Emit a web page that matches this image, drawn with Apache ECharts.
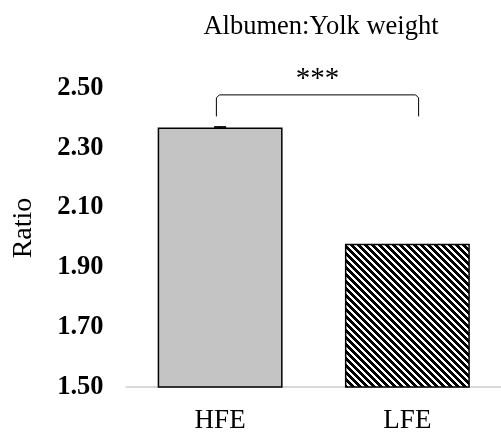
<!DOCTYPE html>
<html>
<head>
<meta charset="utf-8">
<script src="https://cdn.jsdelivr.net/npm/echarts@6/dist/echarts.min.js"></script>
<style>
html,body{margin:0;padding:0;background:#fff;}
#chart{width:501px;height:434px;}
</style>
</head>
<body>
<div id="chart"></div>
<script>
// ---- data ----
var categories = ['HFE', 'LFE'];
var ratioValues = [2.368, 1.979];
var ratioErrors = [0.002, 0];
var yTicks = { min: 1.5, max: 2.5, interval: 0.2 };
var titleText = 'Albumen:Yolk weight';
var axisTitle = 'Ratio';
var sigLabel = '***';
// bracket: [startIndex, endIndex, topValue, legBottomValue] (fractional index = offset in bands)
var bracket = [[-0.02, 1.06, 2.477, 2.405]];

// ---- pattern for LFE ----
function makeStripes() {
  var p = 7;
  var c = document.createElement('canvas');
  c.width = p; c.height = p;
  var ctx = c.getContext('2d');
  var img = ctx.createImageData(p, p);
  for (var y = 0; y < p; y++) {
    for (var x = 0; x < p; x++) {
      var k = (((x - y) % p) + p) % p;
      var v = k < 4 ? 0 : 255;
      var i = (y * p + x) * 4;
      img.data[i] = v; img.data[i + 1] = v; img.data[i + 2] = v; img.data[i + 3] = 255;
    }
  }
  ctx.putImageData(img, 0, 0);
  return c;
}
var stripe = makeStripes();

var serif = '"Liberation Serif","Times New Roman",serif';
var chart = echarts.init(document.getElementById('chart'), null, { renderer: 'canvas' });

var barData = ratioValues.map(function (v, i) {
  return {
    value: v,
    itemStyle: i === 0
      ? { color: '#c4c4c4', borderColor: '#000', borderWidth: 1.5 }
      : { color: { image: stripe, repeat: 'repeat' }, borderColor: '#000', borderWidth: 1.5 }
  };
});

function catCoord(api, idx, val) {
  var base = Math.round(idx);
  var p = api.coord([base, val]);
  var band = api.size([1, 0])[0];
  return [p[0] + (idx - base) * band, p[1]];
}

var series = [
  {
    type: 'bar',
    data: barData,
    barWidth: '66.7%'
  },
  {
    type: 'custom',
    data: ratioValues.map(function (v, i) { return [i, v - ratioErrors[i], v + ratioErrors[i], ratioErrors[i]]; }),
    z: 5,
    renderItem: function (params, api) {
      if (!api.value(3)) return null;
      var lo = api.coord([api.value(0), api.value(1)]);
      var hi = api.coord([api.value(0), api.value(2)]);
      var hw = 6;
      var st = { stroke: '#000', lineWidth: 1.5 };
      return {
        type: 'group',
        children: [
          { type: 'line', shape: { x1: hi[0], y1: hi[1], x2: lo[0], y2: lo[1] }, style: st },
          { type: 'line', shape: { x1: hi[0] - hw, y1: hi[1], x2: hi[0] + hw, y2: hi[1] }, style: st },
          { type: 'line', shape: { x1: lo[0] - hw, y1: lo[1], x2: lo[0] + hw, y2: lo[1] }, style: st }
        ]
      };
    }
  },
  {
    type: 'custom',
    data: bracket,
    z: 5,
    clip: false,
    renderItem: function (params, api) {
      var a = catCoord(api, api.value(0), api.value(2));
      var b = catCoord(api, api.value(1), api.value(2));
      var aLow = catCoord(api, api.value(0), api.value(3));
      var r = 3;
      return {
        type: 'group',
        children: [
          {
            type: 'polyline',
            shape: { points: [[a[0], aLow[1]], [a[0], a[1] + r], [a[0] + r, a[1]], [b[0] - r, b[1]], [b[0], b[1] + r], [b[0], aLow[1]]] },
            style: { stroke: '#000', lineWidth: 1, fill: null }
          },
          {
            type: 'text',
            x: (a[0] + b[0]) / 2, y: a[1] - 15,
            style: { text: sigLabel, fontFamily: serif, fontSize: 29, fill: '#000', textAlign: 'center', textVerticalAlign: 'middle' }
          }
        ]
      };
    }
  }
];

chart.setOption({
  animation: false,
  backgroundColor: '#fff',
  title: {
    text: titleText,
    left: 321,
    top: 14,
    textAlign: 'center',
    padding: 0,
    textStyle: { fontFamily: serif, fontSize: 26.5, fontWeight: 'normal', color: '#000' }
  },
  graphic: [{
    type: 'text',
    x: 24, y: 228,
    rotation: Math.PI / 2,
    style: {
      text: axisTitle,
      fontFamily: serif, fontSize: 28, fill: '#000',
      textAlign: 'center', textVerticalAlign: 'middle'
    }
  }],
  grid: { left: 126.5, top: 88, width: 378, height: 303, containLabel: false },
  xAxis: {
    type: 'category',
    data: categories,
    axisLine: { show: true, lineStyle: { color: '#d9d9d9', width: 2 } },
    axisTick: { show: false },
    axisLabel: { margin: 20, fontFamily: serif, fontSize: 27, color: '#000' }
  },
  yAxis: {
    type: 'value',
    min: yTicks.min, max: yTicks.max, interval: yTicks.interval,
    axisLine: { show: false },
    axisTick: { show: false },
    splitLine: { show: false },
    axisLabel: {
      margin: 23,
      fontFamily: serif, fontSize: 26.5, fontWeight: 'bold', color: '#000',
      formatter: function (v) { return v.toFixed(2); }
    }
  },
  series: series
});
</script>
</body>
</html>
